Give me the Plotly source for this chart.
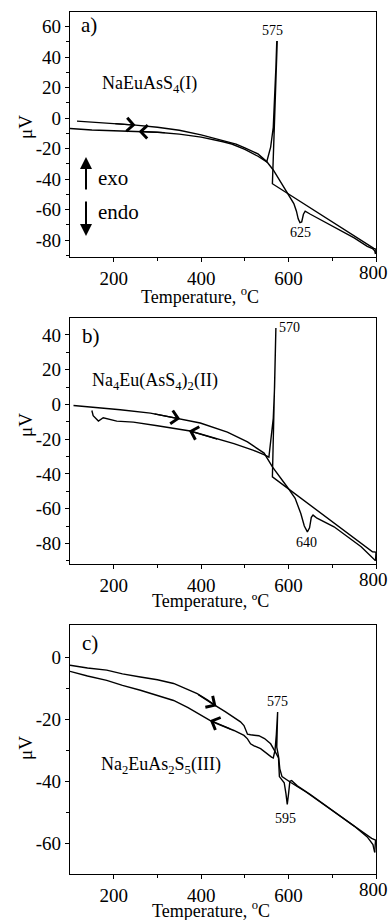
import plotly.graph_objects as go

# ---------------- data ----------------
# Panel a) NaEuAsS4(I)
a_heat_T = [116, 150, 200, 250, 300, 350, 400, 450, 480, 500, 530, 550, 565, 580, 600, 612, 618, 622, 626, 630, 634, 638, 650, 700, 750, 780, 792, 797, 799]
a_heat_V = [-2, -2.6, -3.6, -4.6, -6, -8, -11, -14.5, -17, -19.5, -23.5, -28.5, -34, -41, -50, -56, -61, -66, -68.5, -68, -63, -61, -63, -70.5, -78.5, -84, -85.5, -87, -89]
a_cool_T = [799, 800, 795, 750, 700, 650, 600, 563, 574, 573, 571, 568, 565, 559, 550, 530, 500, 470, 450, 400, 350, 300, 250, 200, 150, 100]
a_cool_V = [-89, -86, -85.3, -77.1, -68, -58.9, -49.8, -43, 50, 50, 33, 12, -6, -19, -28.7, -25, -20.5, -17, -15.5, -12.5, -10.5, -9.3, -8.8, -8.3, -7.8, -6.8]

# Panel b) Na4Eu(AsS4)2(II)
b_heat_T = [108, 150, 215, 284, 337, 398, 460, 506, 544, 563, 597, 615, 628, 636, 643, 648, 652, 656, 665, 704, 766, 789, 796, 799]
b_heat_V = [-0.6, -1.5, -3.1, -5, -7.6, -10.7, -15.9, -21.6, -28, -36, -47.5, -54, -62.8, -70, -73.3, -71, -65, -63.7, -65.5, -70.4, -81.9, -87.7, -89.6, -90]
b_cool_T = [799, 800, 792, 750, 700, 650, 600, 563, 571, 570, 568, 565, 560, 555, 545, 520, 475, 420, 375, 300, 245, 207, 192, 176, 165, 153, 150]
b_cool_V = [-90, -85, -84.8, -76.8, -67.5, -58.1, -48.7, -41.7, 44, 30, 10, -8, -21, -30.3, -29, -26.5, -22.6, -18.5, -15.3, -12.3, -10.2, -9.6, -8.8, -7.7, -9.6, -6.5, -3.5]

# Panel c) Na2EuAs2S5(III)
c_heat_T = [100, 140, 184, 220, 261, 300, 337, 365, 391, 415, 430, 455, 475, 490, 498, 506, 513, 532, 545, 559, 570, 577, 579, 585, 590, 594, 597, 600, 603, 607, 620, 650, 700, 750, 780, 793, 797]
c_heat_V = [-2.5, -3.4, -4.1, -5.3, -6.3, -7.2, -8.4, -10, -11.7, -13.8, -15.3, -17.5, -19.3, -20.8, -22, -24.8, -25, -25.3, -26.2, -27.9, -30.6, -32.5, -38.5, -39.5, -40.5, -44, -47.5, -44, -40, -39.8, -41.5, -44.3, -49.5, -54.5, -58, -60.5, -63]
c_cool_T = [797, 799, 790, 760, 720, 680, 640, 606, 595, 585, 580, 577, 573, 575, 574, 572, 569, 565, 561, 550, 536, 520, 513, 506, 498, 475, 455, 437, 420, 398, 370, 337, 300, 261, 220, 184, 140, 100]
c_cool_V = [-63, -59, -58.5, -55.5, -51.5, -47.5, -43.5, -40.5, -39.5, -38.5, -36, -32, -29, -17.6, -19, -25, -30, -32.5, -32.2, -31, -29.5, -28.5, -27.9, -26.3, -25.2, -23.6, -22.5, -21.5, -20.3, -18.5, -16.2, -13.9, -12.2, -10.6, -9, -7.4, -6, -4.5]

# tick values / labels
x_ticks = [200, 400, 600, 800]
x_tick_labels = ["200", "400", "600", "800"]
x_minor = [300, 500, 700]
a_y_ticks = [-80, -60, -40, -20, 0, 20, 40, 60]
a_y_labels = ["-80", "-60", "-40", "-20", "0", "20", "40", "60"]
a_y_minor = [-90, -70, -50, -30, -10, 10, 30, 50]
b_y_ticks = [-80, -60, -40, -20, 0, 20, 40]
b_y_labels = ["-80", "-60", "-40", "-20", "0", "20", "40"]
b_y_minor = [-90, -70, -50, -30, -10, 10, 30]
c_y_ticks = [-60, -40, -20, 0]
c_y_labels = ["-60", "-40", "-20", "0"]
c_y_minor = [-50, -30, -10]

FONT = "Liberation Serif"
W, H = 390, 920


def P(px, py):
    return px / W, 1 - py / H


fig = go.Figure()
line = dict(color="black", width=1.4)
panels = [
    ("x", "y", a_heat_T, a_heat_V, a_cool_T, a_cool_V),
    ("x2", "y2", b_heat_T, b_heat_V, b_cool_T, b_cool_V),
    ("x3", "y3", c_heat_T, c_heat_V, c_cool_T, c_cool_V),
]
for xa, ya, hT, hV, cT, cV in panels:
    fig.add_trace(go.Scatter(x=hT, y=hV, mode="lines", line=line, xaxis=xa, yaxis=ya,
                             showlegend=False, hoverinfo="skip"))
    fig.add_trace(go.Scatter(x=cT, y=cV, mode="lines", line=line, xaxis=xa, yaxis=ya,
                             showlegend=False, hoverinfo="skip"))

xdom = [70 / W, 376 / W]
doms = {
    "a": [1 - 257 / H, 1 - 12 / H],
    "b": [1 - 564.3 / H, 1 - 317.5 / H],
    "c": [1 - 874 / H, 1 - 625 / H],
}
axis_bottoms = [257, 564.3, 874]
TICKFONT = dict(family=FONT, size=19, color="black")
# the last x label ("800") sits at the page edge, so it is drawn as a clamped annotation
x_axis_text = x_tick_labels[:-1] + [""]


def xaxis(anchor):
    return dict(domain=xdom, anchor=anchor, range=[100, 800], showline=True, linecolor="black",
                linewidth=1.2, mirror=True, ticks="outside", ticklen=4, tickwidth=1.2, tickcolor="black",
                tickmode="array", tickvals=x_ticks, ticktext=x_axis_text, ticklabelstandoff=0,
                minor=dict(ticks="outside", ticklen=2.5, tickwidth=1, tickcolor="black", tickvals=x_minor),
                showgrid=False, zeroline=False, tickfont=TICKFONT, fixedrange=True)


def yaxis(anchor, dom, rng, tv, tt, mv):
    return dict(domain=dom, anchor=anchor, range=rng, showline=True, linecolor="black",
                linewidth=1.2, mirror=True, ticks="outside", ticklen=4, tickwidth=1.2, tickcolor="black",
                tickmode="array", tickvals=tv, ticktext=tt,
                minor=dict(ticks="outside", ticklen=2.5, tickwidth=1, tickcolor="black", tickvals=mv),
                showgrid=False, zeroline=False, tickfont=TICKFONT, fixedrange=True)


fig.update_layout(
    width=W, height=H, autosize=False, margin=dict(l=0, r=0, t=0, b=0),
    paper_bgcolor="white", plot_bgcolor="white",
    xaxis=xaxis("y"),
    yaxis=yaxis("x", doms["a"], [-91, 69.5], a_y_ticks, a_y_labels, a_y_minor),
    xaxis2=xaxis("y2"),
    yaxis2=yaxis("x2", doms["b"], [-92, 50], b_y_ticks, b_y_labels, b_y_minor),
    xaxis3=xaxis("y3"),
    yaxis3=yaxis("x3", doms["c"], [-70, 10.5], c_y_ticks, c_y_labels, c_y_minor),
)

ann = []


def text(px, py, s, size, xanchor="center", angle=0):
    x, y = P(px, py)
    ann.append(dict(x=x, y=y, xref="paper", yref="paper", text=s, showarrow=False,
                    xanchor=xanchor, yanchor="middle", textangle=angle,
                    font=dict(family=FONT, size=size, color="black")))


# last x tick label of each panel, kept inside the page edge
for yb in axis_bottoms:
    x, y = P(389, yb + 4)
    ann.append(dict(x=x, y=y, xref="paper", yref="paper", text=x_tick_labels[-1], showarrow=False,
                    xanchor="right", yanchor="top", borderpad=0,
                    font=TICKFONT))

# axis titles
text(200, 296, "Temperature, <sup>o</sup>C", 18)
text(210, 601, "Temperature, ºC", 18)
text(211, 909, "Temperature, <sup>o</sup>C", 18)
text(25, 127, "μV", 19, angle=-90)
text(26, 425, "μV", 19, angle=-90)
text(25, 748, "μV", 19, angle=-90)

# panel a labels
text(79, 25, "a)", 21, "left")
text(149, 85, "NaEuAsS<sub>4</sub>(I)", 18)
text(272, 31, "575", 14)
text(300, 232, "625", 14)
text(96, 178, "exo", 21, "left")
text(96, 212, "endo", 21, "left")
# panel b labels
text(80, 336, "b)", 21, "left")
text(155, 382, "Na<sub>4</sub>Eu(AsS<sub>4</sub>)<sub>2</sub>(II)", 18)
text(289, 328, "570", 14)
text(306, 542, "640", 14)
# panel c labels
text(80, 643, "c)", 21, "left")
text(161, 765, "Na<sub>2</sub>EuAs<sub>2</sub>S<sub>5</sub>(III)", 18)
text(277, 701, "575", 14)
text(285, 818, "595", 14)

# exo / endo arrows
for (tx, ty, dy) in [(86, 157, 34), (86, 236, -36)]:
    x, y = P(tx, ty)
    ann.append(dict(x=x, y=y, xref="paper", yref="paper", ax=0, ay=dy, text="", showarrow=True,
                    arrowhead=2, arrowsize=1.2, arrowwidth=2, arrowcolor="black", standoff=0))


def curve_arrow(xa, ya, tip, tail):
    ann.append(dict(x=tip[0], y=tip[1], ax=tail[0], ay=tail[1], xref=xa, yref=ya,
                    axref=xa, ayref=ya, text="", showarrow=True, arrowhead=4,
                    arrowsize=2.0, arrowwidth=1.3, arrowcolor="black", standoff=0))


curve_arrow("x", "y", (250, -4.6), (200, -3.6))
curve_arrow("x", "y", (257, -8.8), (320, -9.5))
curve_arrow("x2", "y2", (352, -8.3), (290, -5.3))
curve_arrow("x2", "y2", (372, -15.1), (440, -20.3))
curve_arrow("x3", "y3", (435, -15.8), (390, -11.7))
curve_arrow("x3", "y3", (420, -20.3), (470, -23.3))

fig.update_layout(annotations=ann)

fig.write_html(
    "out.html",
    config={"responsive": False, "displayModeBar": False},
    post_script="document.body.style.margin='0px';document.body.style.overflow='hidden';",
)
